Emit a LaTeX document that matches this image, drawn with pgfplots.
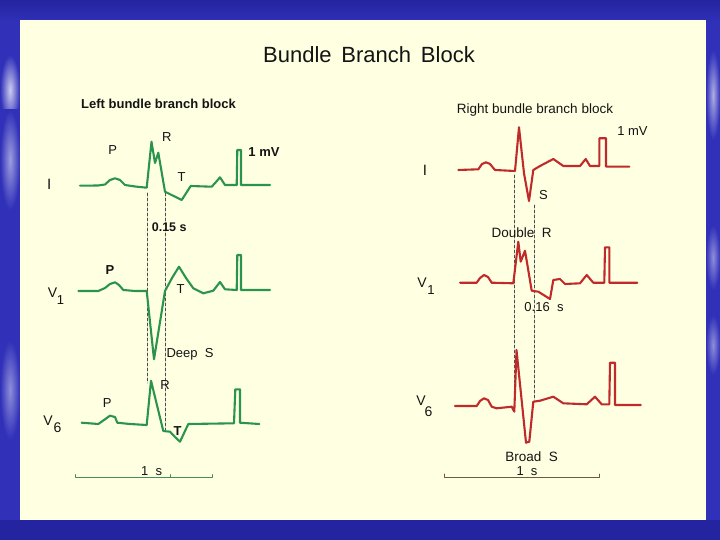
\documentclass[border=0pt]{standalone}
\usepackage{pgfplots}
\pgfplotsset{compat=1.18}
\usepackage{fontspec}
\setmainfont{Liberation Sans}
\definecolor{bgblue}{RGB}{48,48,185}
\definecolor{bgdark}{RGB}{36,36,160}
\definecolor{streak}{RGB}{205,205,240}
\definecolor{panel}{RGB}{255,255,226}
\definecolor{ecggreen}{RGB}{42,148,78}
\definecolor{ecgred}{RGB}{192,42,42}
\definecolor{txt}{RGB}{20,20,20}
\newcommand{\fs}[1]{\fontsize{#1}{#1}\selectfont}
\begin{document}
\begin{tikzpicture}
\begin{axis}[x=1pt, y=1pt, y dir=reverse, xmin=0, xmax=720, ymin=0, ymax=540,
  hide axis, clip=false, scale only axis,
  every axis plot/.append style={line join=round, line cap=round}]
% background
\fill[bgblue] (axis cs:0,0) rectangle (axis cs:720,540);
\shade[top color=bgdark, bottom color=bgblue] (axis cs:0,0) rectangle (axis cs:720,22);
\shade[inner color=streak, outer color=bgblue] (axis cs:0,55) rectangle (axis cs:20,125);
\shade[inner color=streak!70!bgblue, outer color=bgblue] (axis cs:0,110) rectangle (axis cs:20,210);
\shade[inner color=streak!60!bgblue, outer color=bgblue] (axis cs:0,340) rectangle (axis cs:20,440);
\shade[inner color=streak!80!bgblue, outer color=bgblue] (axis cs:706,50) rectangle (axis cs:720,140);
\shade[inner color=streak!60!bgblue, outer color=bgblue] (axis cs:706,225) rectangle (axis cs:720,290);
\shade[inner color=streak!60!bgblue, outer color=bgblue] (axis cs:706,315) rectangle (axis cs:720,375);
\fill[bgdark] (axis cs:0,520) rectangle (axis cs:720,540);
\fill[panel] (axis cs:20,20.5) rectangle (axis cs:706,520);
% title
\node[txt] at (axis cs:369,55) {\fs{22}Bundle\, Branch\, Block};
\node[txt] at (axis cs:158.5,104) {\fs{13}\bfseries Left bundle branch block};
\node[txt] at (axis cs:535,110.5) {\fs{13.5}Right bundle branch block};
% dashed guides
\addplot[gray!60!black, line width=0.6pt, dash pattern=on 3pt off 2pt] coordinates {(147.3,193) (147.3,383)};
\addplot[gray!60!black, line width=0.6pt, dash pattern=on 3pt off 2pt] coordinates {(165,193) (165,430)};
\addplot[gray!60!black, line width=0.6pt, dash pattern=on 3pt off 2pt] coordinates {(514,175) (514,410)};
\addplot[gray!60!black, line width=0.6pt, dash pattern=on 3pt off 2pt] coordinates {(534,205) (534,400)};
% LBBB traces
\addplot[ecggreen, line width=2.1pt] coordinates {(80,185.7)(98,185.5)(105,184.5)(110,180)(115,178.3)(120,180)(125,185)(135,186.5)(146.7,187.7)(151.5,141.7)(155,163)(158.3,152.7)(165,191.7)(181.7,200)(190.7,186)(211.7,186.7)(216,182)(220,177.3)(225,185)(236.7,185)(237.3,150)(241,150)(241,185)(270,185)};
\addplot[ecggreen, line width=2.1pt] coordinates {(78.3,291)(98.3,291)(105,288)(110,284)(115,282.3)(119,285)(123.3,290)(135,291)(146.7,291)(154,359.3)(165,291)(172,278)(179,266.7)(186,278)(193.3,288.3)(203.3,293.3)(213.3,290.7)(220,282)(225,289.3)(236.7,290)(237.3,255)(241,255)(241,290)(270,290)};
\addplot[ecggreen, line width=2.1pt] coordinates {(81.7,422.7)(98.3,424)(104,420)(110,415.7)(115,417)(117.3,422.7)(130,424)(146.7,425)(151,380.7)(163.3,431)(170,431.7)(175,437)(180,441.7)(188.3,424)(234,423.3)(235.3,389.3)(240,389.3)(240,422.7)(259.3,424)};
% RBBB traces
\addplot[ecgred, line width=2.1pt] coordinates {(458.3,170)(478.3,169.3)(482,164)(486,162.3)(490,164)(495,170)(515,171)(519,127.3)(524,173.3)(529,201)(533.3,170)(540,166)(553.3,159)(563.3,166)(580,166)(585.7,159)(590,166)(599.3,166)(599.3,138.3)(606,138.3)(606,166.7)(629.3,166.7)};
\addplot[ecgred, line width=2.1pt] coordinates {(460,282.7)(476.7,282.7)(480,278)(484,275)(488,277)(491.7,282.7)(513.3,283.3)(518.3,241.7)(520.7,261.7)(525,250.7)(531.7,290.7)(538.3,291.7)(550,299)(553.3,280)(560,279)(565,284)(580,283.3)(586.7,275)(593.3,282.7)(604.3,282.7)(605,247.3)(609.3,247.3)(609.3,282.7)(637.3,282.7)};
\addplot[ecgred, line width=2.1pt] coordinates {(455,406)(476.7,406)(480,401)(484,398.3)(488,400)(491.7,406.7)(496.7,408.3)(511.7,406.7)(514.3,411.7)(516.5,350)(526,442.7)(529.3,441.7)(533.3,401.7)(540,400.7)(553.3,396.7)(563.3,403.3)(586.7,404.3)(595,396.7)(601.7,404.3)(609.3,404.3)(610,362.7)(615,362.7)(615,405)(640.7,405)};
% scale bars
\addplot[ecggreen!70!gray, line width=0.7pt] coordinates {(75,474.5)(75,477.3)(212.7,477.3)(212.7,474.5)};
\addplot[ecggreen!70!gray, line width=0.7pt] coordinates {(170,474.5)(170,477.3)};
\addplot[gray!50!brown!70!black, line width=0.7pt] coordinates {(444.3,474)(444.3,477.3)(599.3,477.3)(599.3,474)};
% LBBB labels
\node[txt] at (axis cs:49.3,184) {\fs{15}I};
\node[txt] at (axis cs:112.7,150) {\fs{13}P};
\node[txt] at (axis cs:166.7,137.5) {\fs{13}R};
\node[txt] at (axis cs:181.7,177) {\fs{13}T};
\node[txt] at (axis cs:264,152) {\fs{13}\bfseries 1 mV};
\node[txt] at (axis cs:169.2,227.5) {\fs{12.5}\bfseries 0.15 s};
\node[txt] at (axis cs:110,270) {\fs{13}\bfseries P};
\node[txt] at (axis cs:180.7,289.5) {\fs{13}T};
\node[txt] at (axis cs:190,354.5) {\fs{13}Deep\ \ S};
\node[txt] at (axis cs:52.5,292.5) {\fs{14}V};
\node[txt] at (axis cs:60.5,300.5) {\fs{13}1};
\node[txt] at (axis cs:107.3,403.5) {\fs{13}P};
\node[txt] at (axis cs:165,385) {\fs{13}R};
\node[txt] at (axis cs:177.7,431) {\fs{13}\bfseries T};
\node[txt] at (axis cs:48,421) {\fs{14}V};
\node[txt] at (axis cs:57.5,427.5) {\fs{14}6};
\node[txt] at (axis cs:151.7,471) {\fs{13}1\ \ s};
% RBBB labels
\node[txt] at (axis cs:425,170) {\fs{15}I};
\node[txt] at (axis cs:543.5,195.5) {\fs{13}S};
\node[txt] at (axis cs:632.5,131.5) {\fs{13}1 mV};
\node[txt] at (axis cs:521.7,232.5) {\fs{13.5}Double\ \ R};
\node[txt] at (axis cs:422,283) {\fs{14}V};
\node[txt] at (axis cs:431,290.5) {\fs{13}1};
\node[txt] at (axis cs:544,307.5) {\fs{13}0.16\ \ s};
\node[txt] at (axis cs:421,401) {\fs{14}V};
\node[txt] at (axis cs:428.5,411.5) {\fs{14}6};
\node[txt] at (axis cs:531.7,456.5) {\fs{13.5}Broad\ \ S};
\node[txt] at (axis cs:527,471) {\fs{13}1\ \ s};
\end{axis}
\end{tikzpicture}
\end{document}
